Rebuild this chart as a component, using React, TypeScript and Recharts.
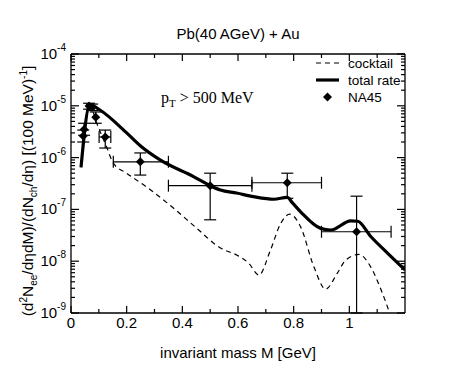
import React from 'react';
import { ComposedChart, Line, Scatter, ErrorBar, XAxis, YAxis, Legend } from 'recharts';

// total rate (thick line)
const totalMass = [0.036, 0.068, 0.104, 0.2, 0.25, 0.32, 0.44, 0.5, 0.537, 0.595, 0.656, 0.729, 0.777, 0.795, 0.825, 0.897, 0.933, 1.005, 1.03, 1.077, 1.138, 1.2];
const totalRate = [6.5e-7, 1.05e-5, 8.3e-6, 3.0e-6, 1.67e-6, 9.0e-7, 4.3e-7, 2.87e-7, 2.37e-7, 2.07e-7, 1.76e-7, 1.57e-7, 1.71e-7, 1.35e-7, 9.0e-8, 4.3e-8, 4.0e-8, 6.0e-8, 5.9e-8, 3.0e-8, 1.42e-8, 6.8e-9];

// hadronic cocktail (dashed)
const cocktailMass = [0.036, 0.068, 0.09, 0.128, 0.152, 0.2, 0.285, 0.369, 0.45, 0.537, 0.597, 0.639, 0.675, 0.717, 0.753, 0.786, 0.825, 0.873, 0.915, 0.957, 0.987, 1.035, 1.077, 1.114, 1.143, 1.17];
const cocktailRate = [6.5e-7, 1.05e-5, 5.0e-6, 1.6e-6, 7.8e-7, 5.0e-7, 2.4e-7, 1.05e-7, 4.4e-8, 1.8e-8, 1.3e-8, 9.1e-9, 5.4e-9, 1.66e-8, 5.3e-8, 8.1e-8, 4.6e-8, 7.7e-9, 2.9e-9, 5.9e-9, 1.05e-8, 1.35e-8, 7.7e-9, 2.8e-9, 1.07e-9, 4e-10];

// NA45 data points
const na45Mass = [0.044, 0.047, 0.065, 0.076, 0.089, 0.123, 0.249, 0.5, 0.777, 1.026];
const na45Value = [2.6e-6, 3.5e-6, 9.9e-6, 9.4e-6, 6.0e-6, 2.5e-6, 8.3e-7, 2.87e-7, 3.27e-7, 3.7e-8];
const na45Low = [2.0e-6, 2.7e-6, 8.6e-6, 8.1e-6, 4.6e-6, 1.53e-6, 4.6e-7, 6.3e-8, 1.64e-7, 1e-9];
const na45High = [3.4e-6, 4.6e-6, 1.12e-5, 1.08e-5, 7.6e-6, 3.4e-6, 1.23e-6, 5.0e-7, 5.0e-7, 1.8e-7];
const na45MassLow = [0.044, 0.047, 0.065, 0.076, 0.089, 0.101, 0.152, 0.35, 0.65, 0.9];
const na45MassHigh = [0.044, 0.047, 0.065, 0.076, 0.089, 0.143, 0.35, 0.65, 0.9, 1.15];

const xTicks = [0, 0.1, 0.2, 0.3, 0.4, 0.5, 0.6, 0.7, 0.8, 0.9, 1, 1.1];
const decades = [-9, -8, -7, -6, -5, -4];
const legendNames = ['cocktail', 'total rate', 'NA45'];

const yTicks: number[] = [];
decades.forEach((e) => {
  yTicks.push(Math.pow(10, e));
  if (e < -4) for (let k = 2; k <= 9; k++) yTicks.push(k * Math.pow(10, e));
});

const totalData = totalMass.map((m, i) => ({ m, v: totalRate[i] }));
const cocktailData = cocktailMass.map((m, i) => ({ m, v: cocktailRate[i] }));
const na45Data = na45Mass.map((m, i) => ({
  m,
  v: na45Value[i],
  ey: [na45Value[i] - na45Low[i], na45High[i] - na45Value[i]],
  ex: na45MassHigh[i] > na45MassLow[i] ? [m - na45MassLow[i], na45MassHigh[i] - m] : null,
}));

const sans = '"Liberation Sans", Arial, Helvetica, sans-serif';
const serif = '"Liberation Serif", "Times New Roman", serif';

const isMajorX = (v: number) => Math.round(v * 10) % 2 === 0;
const isMajorY = (v: number) => {
  const e = Math.log10(v);
  return Math.abs(e - Math.round(e)) < 1e-6;
};

const XTick = ({ x, y, payload, top }: any) => {
  const major = isMajorX(payload.value);
  const len = major ? 7 : 4;
  const dir = top ? 1 : -1;
  return (
    <g>
      <line x1={x} y1={y} x2={x} y2={y + dir * len} stroke="#000" strokeWidth={1.2} />
      {!top && major && (
        <text x={x} y={y + 15} textAnchor="middle" fontFamily={sans} fontSize={15} fill="#000">
          {String(Math.round(payload.value * 10) / 10)}
        </text>
      )}
    </g>
  );
};

const YTick = ({ x, y, payload, right }: any) => {
  const major = isMajorY(payload.value);
  const len = major ? 8 : 4;
  const dir = right ? -1 : 1;
  return (
    <g>
      <line x1={x} y1={y} x2={x + dir * len} y2={y} stroke="#000" strokeWidth={1.2} />
      {!right && major && (
        <text x={x - 5} y={y + 5} textAnchor="end" fontFamily={sans} fontSize={15} fill="#000">
          10
          <tspan dy={-8} fontSize={10}>{String(Math.round(Math.log10(payload.value)))}</tspan>
        </text>
      )}
    </g>
  );
};

const Diamond = ({ cx, cy }: any) => (
  <polygon points={`${cx},${cy - 4.5} ${cx + 4.5},${cy} ${cx},${cy + 4.5} ${cx - 4.5},${cy}`} fill="#000" />
);

const LegendBox = () => (
  <svg width={130} height={50}>
    <line x1={0} y1={8} x2={23} y2={8} stroke="#000" strokeWidth={1.2} strokeDasharray="5 4" />
    <text x={32} y={13} fontFamily={sans} fontSize={13.5}>{legendNames[0]}</text>
    <line x1={0} y1={25} x2={23} y2={25} stroke="#000" strokeWidth={3.2} />
    <text x={32} y={30} fontFamily={sans} fontSize={13.5}>{legendNames[1]}</text>
    <polygon points="11.5,37.5 16,42 11.5,46.5 7,42" fill="#000" />
    <text x={32} y={47} fontFamily={sans} fontSize={13.5}>{legendNames[2]}</text>
  </svg>
);

const axisLine = { stroke: '#000', strokeWidth: 1.3 };

export default function App() {
  return (
    <div style={{ position: 'absolute', left: 0, top: 0, background: '#fff' }}>
      <ComposedChart width={476} height={368} margin={{ top: 53, right: 70, bottom: 54, left: 70 }}>
        <XAxis xAxisId="b" dataKey="m" type="number" domain={[0, 1.2]} allowDataOverflow ticks={xTicks} interval={0}
          height={1} tickSize={0} tickMargin={0} tickLine={false} axisLine={axisLine} tick={(p: any) => <XTick {...p} />} />
        <XAxis xAxisId="t" orientation="top" dataKey="m" type="number" domain={[0, 1.2]} allowDataOverflow ticks={xTicks} interval={0}
          height={1} tickSize={0} tickMargin={0} tickLine={false} axisLine={axisLine} tick={(p: any) => <XTick {...p} top />} />
        <YAxis yAxisId="l" type="number" scale="log" domain={[1e-9, 1e-4]} allowDataOverflow ticks={yTicks} interval={0}
          width={1} tickSize={0} tickMargin={0} tickLine={false} axisLine={axisLine} tick={(p: any) => <YTick {...p} />} />
        <YAxis yAxisId="r" orientation="right" type="number" scale="log" domain={[1e-9, 1e-4]} allowDataOverflow ticks={yTicks} interval={0}
          width={1} tickSize={0} tickMargin={0} tickLine={false} axisLine={axisLine} tick={(p: any) => <YTick {...p} right />} />
        <Line xAxisId="b" yAxisId="l" data={cocktailData} dataKey="v" type="monotone" stroke="#000" strokeWidth={1.2}
          strokeDasharray="5 4" dot={false} isAnimationActive={false} />
        <Line xAxisId="b" yAxisId="l" data={totalData} dataKey="v" type="monotone" stroke="#000" strokeWidth={3.2}
          dot={false} isAnimationActive={false} />
        <Scatter xAxisId="b" yAxisId="l" data={na45Data} dataKey="v" shape={<Diamond />} isAnimationActive={false}>
          <ErrorBar dataKey="ey" direction="y" width={6} stroke="#000" strokeWidth={1.2} />
          <ErrorBar dataKey="ex" direction="x" width={6} stroke="#000" strokeWidth={1.2} />
        </Scatter>
        <Legend layout="vertical" align="center" verticalAlign="middle" content={() => <LegendBox />}
          wrapperStyle={{ position: 'absolute', left: 316, top: 55, width: 130 }} />
        <text x={238} y={39} textAnchor="middle" fontFamily={sans} fontSize={15} fill="#000">Pb(40 AGeV) + Au</text>
        <text x={238} y={358} textAnchor="middle" fontFamily={sans} fontSize={15} fill="#000">invariant mass M [GeV]</text>
        <text x={161} y={103} fontFamily={serif} fontSize={16} fill="#000">
          p<tspan dy={4} fontSize={11}>T</tspan><tspan dy={-4}> &gt; 500 MeV</tspan>
        </text>
        <text transform="translate(33,191) rotate(-90)" textAnchor="middle" fontFamily={sans} fontSize={15.5} fill="#000">
          (d<tspan dy={-6} fontSize={10}>2</tspan><tspan dy={6}>N</tspan><tspan dy={4} fontSize={10}>ee</tspan>
          <tspan dy={-4}>/dηdM)/(dN</tspan><tspan dy={4} fontSize={10}>ch</tspan><tspan dy={-4}>/dη) [(100 MeV)</tspan>
          <tspan dy={-6} fontSize={10}>-1</tspan><tspan dy={6}>]</tspan>
        </text>
      </ComposedChart>
    </div>
  );
}
